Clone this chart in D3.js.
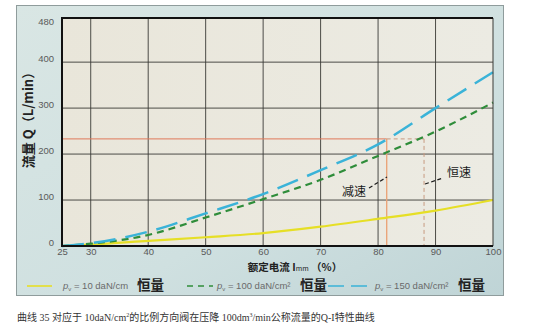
<!DOCTYPE html>
<html>
<head>
<meta charset="utf-8">
<script src="https://cdn.jsdelivr.net/npm/d3@7"></script>
<style>
  html, body { margin: 0; padding: 0; background: #ffffff; }
  svg { display: block; }
</style>
</head>
<body>
<svg id="chart" width="538" height="331"></svg>
<script>
// Q-I characteristic of a proportional directional valve
const currentPct = [25, 30, 40, 50, 60, 70, 80, 90, 100];
const flow10  = [0, 3, 11, 19, 28, 42, 59, 77, 100];
const flow100 = [0, 5, 24, 62, 102, 144, 196, 249, 312];
const flow150 = [0, 6, 31, 71, 113, 165, 221, 300, 378];
const xTickValues = [25, 30, 40, 50, 60, 70, 80, 90, 100];
const yTickValues = [0, 100, 200, 300, 400, 480];
const gridX = [30, 40, 50, 60, 70, 80, 90];
const gridY = [100, 200, 300, 400];
const refFlow = 233;      // flow level marked by the reference lines
const decelPct = 81.5;    // current where 150 daN/cm² curve reaches refFlow
const constPct = 88;      // current where 100 daN/cm² curve reaches refFlow
const legendLabels = ["10 daN/cm", "100 daN/cm²", "150 daN/cm²"];
const annotations = ["减速", "恒速"];

const svg = d3.select("#chart");
const defs = svg.append("defs");

const bg = defs.append("linearGradient").attr("id", "panelBg")
  .attr("x1", "0").attr("y1", "0").attr("x2", "1").attr("y2", "1");
bg.append("stop").attr("offset", "0").attr("stop-color", "#d9e6e4");
bg.append("stop").attr("offset", "0.6").attr("stop-color", "#cfe0e0");
bg.append("stop").attr("offset", "1").attr("stop-color", "#bfd4d6");

const plotBg = defs.append("linearGradient").attr("id", "plotBg")
  .attr("x1", "0").attr("y1", "0").attr("x2", "1").attr("y2", "0");
plotBg.append("stop").attr("offset", "0").attr("stop-color", "#e9e6da");
plotBg.append("stop").attr("offset", "1").attr("stop-color", "#ecebe3");

// outer panel
svg.append("rect").attr("x", 16.5).attr("y", 5.5).attr("width", 487).attr("height", 290)
  .attr("fill", "url(#panelBg)").attr("stroke", "#8f9c9c").attr("stroke-width", 1);

const plotL = 62, plotR = 493, plotT = 18, plotB = 246;
const x = d3.scaleLinear().domain([25, 100]).range([plotL, plotR]);
const y = d3.scaleLinear().domain([0, 496]).range([plotB, plotT]);

svg.append("rect").attr("x", plotL).attr("y", plotT).attr("width", plotR - plotL).attr("height", plotB - plotT)
  .attr("fill", "url(#plotBg)");

// grid
svg.append("g").selectAll("line").data(gridX).join("line")
  .attr("x1", d => x(d)).attr("x2", d => x(d)).attr("y1", plotT).attr("y2", plotB)
  .attr("stroke", "#3a3a36").attr("stroke-width", 0.9);
svg.append("g").selectAll("line").data(gridY).join("line")
  .attr("x1", plotL).attr("x2", plotR).attr("y1", d => y(d)).attr("y2", d => y(d))
  .attr("stroke", "#3a3a36").attr("stroke-width", 0.9);

// reference lines
svg.append("line").attr("x1", plotL).attr("x2", x(decelPct)).attr("y1", y(refFlow)).attr("y2", y(refFlow))
  .attr("stroke", "#e0785a").attr("stroke-width", 1);
svg.append("line").attr("x1", x(decelPct)).attr("x2", x(decelPct)).attr("y1", y(refFlow)).attr("y2", plotB)
  .attr("stroke", "#eaa57a").attr("stroke-width", 1.4);
svg.append("line").attr("x1", x(decelPct)).attr("x2", x(constPct)).attr("y1", y(refFlow)).attr("y2", y(refFlow))
  .attr("stroke", "#c79a80").attr("stroke-width", 1).attr("stroke-dasharray", "4,3");
svg.append("line").attr("x1", x(constPct)).attr("x2", x(constPct)).attr("y1", y(refFlow)).attr("y2", plotB)
  .attr("stroke", "#c79a80").attr("stroke-width", 1).attr("stroke-dasharray", "4,3");

// curves
const line = d3.line().x(d => x(d[0])).y(d => y(d[1])).curve(d3.curveMonotoneX);
const series = [
  { vals: flow10,  color: "#e6df26", width: 2.2, dash: null },
  { vals: flow100, color: "#2f8d3a", width: 2.2, dash: "7,5" },
  { vals: flow150, color: "#3ab3d8", width: 2.5, dash: "22,10" }
];
series.forEach(s => {
  svg.append("path").datum(currentPct.map((c, i) => [c, s.vals[i]]))
    .attr("d", line).attr("fill", "none")
    .attr("stroke", s.color).attr("stroke-width", s.width)
    .attr("stroke-dasharray", s.dash);
});

// frame
svg.append("line").attr("x1", plotR).attr("x2", plotR).attr("y1", plotT).attr("y2", plotB)
  .attr("stroke", "#3a3a36").attr("stroke-width", 1);
svg.append("path").attr("d", `M${plotR},${plotT}H${plotL}V${plotB}H${plotR}`)
  .attr("fill", "none").attr("stroke", "#111").attr("stroke-width", 2);

// tick labels
const xAxis = svg.append("g").attr("transform", `translate(0,${plotB})`)
  .call(d3.axisBottom(x).tickValues(xTickValues).tickSize(0).tickPadding(2));
xAxis.select(".domain").remove();
xAxis.selectAll("text").attr("font-family", "Liberation Sans, Arial, sans-serif")
  .attr("font-size", 9.5).attr("fill", "#5a5a5a");

const yAxis = svg.append("g").attr("transform", `translate(${plotL},0)`)
  .call(d3.axisLeft(y).tickValues(yTickValues).tickSize(0).tickPadding(8));
yAxis.select(".domain").remove();
yAxis.selectAll("text").attr("font-family", "Liberation Sans, Arial, sans-serif")
  .attr("font-size", 9.5).attr("fill", "#5a5a5a").attr("dy", "-0.1em");

// axis titles
const cjk = "'Noto Sans CJK SC', sans-serif";
svg.append("text").attr("transform", "translate(33,117) rotate(-90)")
  .attr("text-anchor", "middle").attr("font-family", cjk).attr("font-size", 13)
  .attr("font-weight", "bold").attr("fill", "#222")
  .text("流量 Q（L/min）");

const xt = svg.append("text").attr("x", 295).attr("y", 271).attr("text-anchor", "middle")
  .attr("font-family", cjk).attr("font-size", 10.5).attr("font-weight", "bold").attr("fill", "#222");
xt.append("tspan").text("额定电流 I");
xt.append("tspan").attr("font-size", 7).attr("font-weight", "normal").text("mm");
xt.append("tspan").text(" （%）");

// annotations
const ann = [
  { t: annotations[0], tx: 354, ty: 196, x1: 369, y1: 188, x2: 387, y2: 177 },
  { t: annotations[1], tx: 459, ty: 177, x1: 425, y1: 184, x2: 443, y2: 178 }
];
ann.forEach(a => {
  svg.append("text").attr("x", a.tx).attr("y", a.ty).attr("text-anchor", "middle")
    .attr("font-family", cjk).attr("font-size", 12).attr("fill", "#1a1a1a").text(a.t);
  svg.append("line").attr("x1", a.x1).attr("y1", a.y1).attr("x2", a.x2).attr("y2", a.y2)
    .attr("stroke", "#1a1a1a").attr("stroke-width", 1.2).attr("stroke-dasharray", "4,2.5");
});

// legend
const legY = 289;
const legItems = [
  { sx: 27, ex: 52, tx: 63, kx: 137, s: series[0] },
  { sx: 187, ex: 213, tx: 217, kx: 300, s: series[1] },
  { sx: 328, ex: 367, tx: 375, kx: 458, s: series[2] }
];
legItems.forEach((it, i) => {
  svg.append("line").attr("x1", it.sx).attr("x2", it.ex).attr("y1", legY - 3).attr("y2", legY - 3)
    .attr("stroke", it.s.color).attr("stroke-width", 1.6)
    .attr("stroke-dasharray", i === 0 ? null : (i === 1 ? "6,5" : "16,7"));
  const t = svg.append("text").attr("x", it.tx).attr("y", legY)
    .attr("font-family", "Liberation Sans, Arial, sans-serif").attr("font-size", 9.5).attr("fill", "#6a6a6a");
  t.append("tspan").attr("font-style", "italic").text("p");
  t.append("tspan").attr("font-size", 6).attr("dy", 2).text("v");
  t.append("tspan").attr("dy", -2).text(" =  " + legendLabels[i]);
  svg.append("text").attr("x", it.kx).attr("y", legY + 1)
    .attr("font-family", cjk).attr("font-size", 13.5).attr("font-weight", "bold").attr("fill", "#222")
    .text("恒量");
});

// caption
const cap = svg.append("text").attr("x", 17).attr("y", 321)
  .attr("font-family", "'Liberation Serif', 'Noto Sans CJK SC', serif").attr("font-size", 10).attr("fill", "#333");
cap.append("tspan").text("曲线 35  对应于 10daN/cm");
cap.append("tspan").attr("font-size", 6).attr("dy", -4).text("2");
cap.append("tspan").attr("dy", 4).text("的比例方向阀在压降 100dm");
cap.append("tspan").attr("font-size", 6).attr("dy", -4).text("3");
cap.append("tspan").attr("dy", 4).text("/min公称流量的Q-I特性曲线");
</script>
</body>
</html>
